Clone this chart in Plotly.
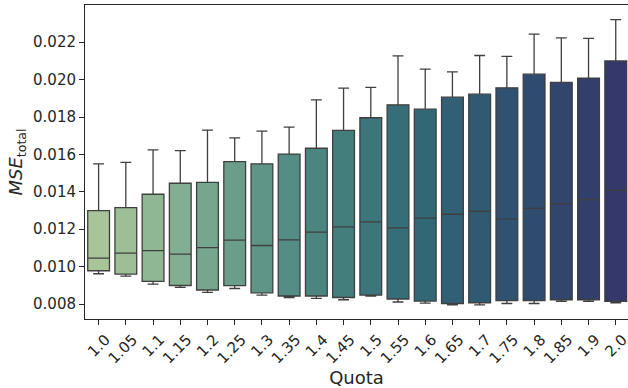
import colorsys
import plotly.graph_objects as go

quota = ["1.0", "1.05", "1.1", "1.15", "1.2", "1.25", "1.3", "1.35", "1.4", "1.45",
         "1.5", "1.55", "1.6", "1.65", "1.7", "1.75", "1.8", "1.85", "1.9", "2.0"]
whisker_low = [0.00962, 0.00949, 0.00907, 0.00889, 0.00862, 0.00883, 0.00848, 0.00835, 0.00830, 0.00823,
               0.00843, 0.00811, 0.00805, 0.00796, 0.00796, 0.00803, 0.00803, 0.00814, 0.00814, 0.00807]
q1 = [0.00978, 0.00960, 0.00921, 0.00899, 0.00875, 0.00898, 0.00860, 0.00843, 0.00843, 0.00835,
      0.00848, 0.00827, 0.00816, 0.00803, 0.00807, 0.00818, 0.00818, 0.00823, 0.00823, 0.00814]
median = [0.01046, 0.01072, 0.01086, 0.01067, 0.01102, 0.01142, 0.01113, 0.01143, 0.01184, 0.01213,
          0.01239, 0.01207, 0.01259, 0.01280, 0.01296, 0.01254, 0.01312, 0.01337, 0.01358, 0.01408]
q3 = [0.01300, 0.01316, 0.01387, 0.01446, 0.01451, 0.01561, 0.01550, 0.01602, 0.01633, 0.01729,
      0.01796, 0.01865, 0.01842, 0.01906, 0.01922, 0.01956, 0.02029, 0.01985, 0.02008, 0.02100]
whisker_high = [0.01550, 0.01558, 0.01624, 0.01620, 0.01730, 0.01689, 0.01725, 0.01746, 0.01892, 0.01954,
                0.01958, 0.02127, 0.02056, 0.02041, 0.02129, 0.02124, 0.02243, 0.02223, 0.02221, 0.02321]
y_ticks = [0.008, 0.010, 0.012, 0.014, 0.016, 0.018, 0.020, 0.022]

# approximate "crest" palette anchors, then desaturate (seaborn boxplot style)
anchors = [(0.0, (165, 205, 144)), (0.2, (111, 176, 142)), (0.4, (67, 146, 136)),
           (0.6, (40, 114, 130)), (0.8, (35, 82, 122)), (1.0, (44, 48, 115))]


def crest(t):
    for (t0, c0), (t1, c1) in zip(anchors[:-1], anchors[1:]):
        if t0 <= t <= t1:
            f = (t - t0) / (t1 - t0)
            rgb = [(a + (b - a) * f) / 255 for a, b in zip(c0, c1)]
            h, l, s = colorsys.rgb_to_hls(*rgb)
            r, g, b = colorsys.hls_to_rgb(h, l, s * 0.75)
            return "rgb(%d,%d,%d)" % (round(r * 255), round(g * 255), round(b * 255))


n = len(quota)
colors = [crest(i / (n - 1)) for i in range(n)]
line_col = "#3f3f3f"

fig = go.Figure()
for i, q in enumerate(quota):
    fig.add_trace(go.Box(
        x=[q], q1=[q1[i]], median=[median[i]], q3=[q3[i]],
        lowerfence=[whisker_low[i]], upperfence=[whisker_high[i]],
        fillcolor=colors[i], line=dict(color=line_col, width=1.3),
        width=0.8, whiskerwidth=0.5, boxpoints=False, showlegend=False,
        hoverinfo="skip",
    ))

font = "DejaVu Sans"
fig.update_layout(
    width=628, height=388,
    margin=dict(l=85, r=0, t=5, b=69, autoexpand=False),
    paper_bgcolor="white", plot_bgcolor="white",
    font=dict(family=font, color="#262626", size=15),
    xaxis=dict(
        type="category", categoryorder="array", categoryarray=quota, automargin=False,
        range=[-0.5, 19.45], showline=True, mirror=True, linecolor="#262626", linewidth=1,
        ticks="outside", ticklen=5, tickcolor="#262626", tickangle=-45,
        tickfont=dict(size=15, family=font), ticklabelshift=7, showgrid=False, zeroline=False,
        title=dict(text="Quota", font=dict(size=18, family=font), standoff=4),
    ),
    yaxis=dict(
        range=[0.00720, 0.02399], tickvals=y_ticks, tickformat=".3f", automargin=False,
        showline=True, linecolor="#262626", linewidth=1,
        ticks="outside", ticklen=5, tickcolor="#262626",
        tickfont=dict(size=15, family=font), showgrid=False, zeroline=False,
        title=dict(text="<i>MSE</i><sub>total</sub>", font=dict(size=18, family=font), standoff=5),
    ),
)

fig.write_html("out.html", config={"displayModeBar": False},
               post_script="document.body.style.margin='0';")
